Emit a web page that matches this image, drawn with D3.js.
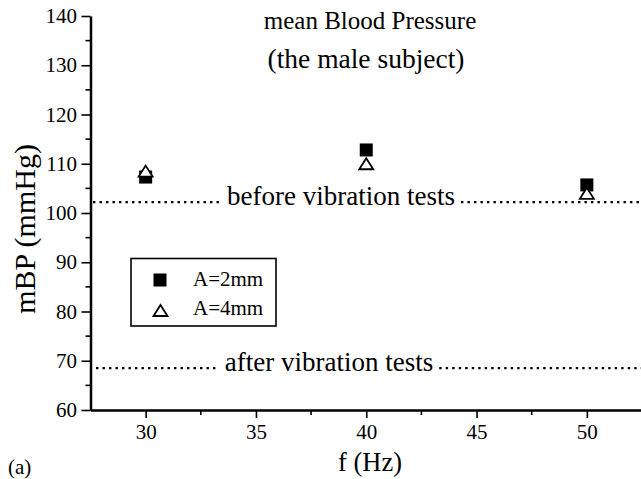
<!DOCTYPE html>
<html>
<head>
<meta charset="utf-8">
<script src="https://cdn.jsdelivr.net/npm/d3@7"></script>
<style>
  body { margin: 0; background: #fff; }
  svg text { font-family: "Liberation Serif", "Times New Roman", serif; fill: #000; }
</style>
</head>
<body>
<div id="chart"></div>
<script>
const freqs = [30, 40, 50];
const amp2mm = [107.3, 112.8, 105.7];
const amp4mm = [108.5, 110.0, 104.0];
const refLabels = ['before vibration tests', 'after vibration tests'];
const refValues = [102.2, 68.5];
const xTicks = [30, 35, 40, 45, 50];
const yTicks = [60, 70, 80, 90, 100, 110, 120, 130, 140];
const seriesLabels = ['A=2mm', 'A=4mm'];

const width = 641;
const height = 479;
const serif = '"Liberation Serif", "Times New Roman", serif';

const svg = d3.select('#chart')
  .append('svg')
  .attr('width', width)
  .attr('height', height);

const x = d3.scaleLinear().domain([27.5, 52.5]).range([90.5, 642]);
const y = d3.scaleLinear().domain([60, 140]).range([410, 16]);

// minor ticks
const xMinor = d3.range(32.5, 52.5, 5);
const yMinor = d3.range(65, 140, 10);

svg.selectAll('.xminor').data(xMinor).enter().append('line')
  .attr('x1', d => x(d)).attr('x2', d => x(d))
  .attr('y1', y(60)).attr('y2', y(60) + 5)
  .attr('stroke', '#000').attr('stroke-width', 1.6);
svg.selectAll('.yminor').data(yMinor).enter().append('line')
  .attr('y1', d => y(d)).attr('y2', d => y(d))
  .attr('x1', x(27.5)).attr('x2', x(27.5) - 5)
  .attr('stroke', '#000').attr('stroke-width', 1.6);

// axes
const xAxis = svg.append('g')
  .attr('transform', `translate(0, ${y(60)})`)
  .call(d3.axisBottom(x).tickValues(xTicks).tickSize(8).tickPadding(6.5).tickSizeOuter(0));
const yAxis = svg.append('g')
  .attr('transform', `translate(${x(27.5)}, 0)`)
  .call(d3.axisLeft(y).tickValues(yTicks).tickSize(9).tickPadding(4.5).tickSizeOuter(0));

[xAxis, yAxis].forEach(g => {
  g.select('.domain').attr('stroke', '#000').attr('stroke-width', 2.5);
  g.selectAll('.tick line').attr('stroke', '#000').attr('stroke-width', 1.6);
  g.selectAll('.tick text')
    .style('font-family', serif)
    .style('font-size', '21px')
    .attr('fill', '#000');
});

// reference levels: dotted leaders with the label in the middle
const refTextX = [341, 329];
const refStart = [93, 96];
refLabels.forEach((label, i) => {
  const yy = y(refValues[i]);
  const t = svg.append('text')
    .attr('x', refTextX[i]).attr('y', yy + 3)
    .attr('text-anchor', 'middle')
    .attr('font-size', 27)
    .text(label);
  const bb = t.node().getBBox();
  const segs = [[refStart[i], bb.x - 6], [bb.x + bb.width + 6, 641]];
  segs.forEach(s => {
    svg.append('line')
      .attr('x1', s[0]).attr('x2', s[1])
      .attr('y1', yy).attr('y2', yy)
      .attr('stroke', '#000').attr('stroke-width', 2.4)
      .attr('stroke-dasharray', '2.4,4.1');
  });
});

// markers
const sq = 13;
const triPath = (cx, cy) => `M${cx},${cy - 5.5}L${cx + 7},${cy + 5.5}L${cx - 7},${cy + 5.5}Z`;

svg.selectAll('.sq').data(freqs).enter().append('rect')
  .attr('x', d => x(d) - sq / 2)
  .attr('y', (d, i) => y(amp2mm[i]) - sq / 2)
  .attr('width', sq).attr('height', sq)
  .attr('fill', '#000');

svg.selectAll('.tri').data(freqs).enter().append('path')
  .attr('d', (d, i) => triPath(x(d), y(amp4mm[i])))
  .attr('fill', '#fff').attr('stroke', '#000').attr('stroke-width', 1.8);

// legend
const legend = svg.append('g').attr('transform', 'translate(131, 258.5)');
legend.append('rect')
  .attr('width', 145).attr('height', 67.5)
  .attr('fill', 'none').attr('stroke', '#000').attr('stroke-width', 1.6);
legend.append('rect')
  .attr('x', 29 - sq / 2).attr('y', 21.5 - sq / 2)
  .attr('width', sq).attr('height', sq).attr('fill', '#000');
legend.append('path')
  .attr('d', triPath(29.5, 52))
  .attr('fill', '#fff').attr('stroke', '#000').attr('stroke-width', 1.8);
legend.selectAll('.ltext').data(seriesLabels).enter().append('text')
  .attr('x', 62)
  .attr('y', (d, i) => 27.5 + i * 29)
  .attr('font-size', 21)
  .text(d => d);

// titles
svg.append('text').attr('x', 370).attr('y', 29).attr('text-anchor', 'middle')
  .attr('font-size', 25).text('mean Blood Pressure');
svg.append('text').attr('x', 366).attr('y', 68).attr('text-anchor', 'middle')
  .attr('font-size', 27.5).text('(the male subject)');

svg.append('text')
  .attr('transform', 'translate(35, 229) rotate(-90)')
  .attr('text-anchor', 'middle')
  .attr('font-size', 30)
  .text('mBP (mmHg)');
svg.append('text').attr('x', 370).attr('y', 471).attr('text-anchor', 'middle')
  .attr('font-size', 26.5).text('f (Hz)');
svg.append('text').attr('x', 8).attr('y', 474).attr('font-size', 21).text('(a)');
</script>
</body>
</html>
